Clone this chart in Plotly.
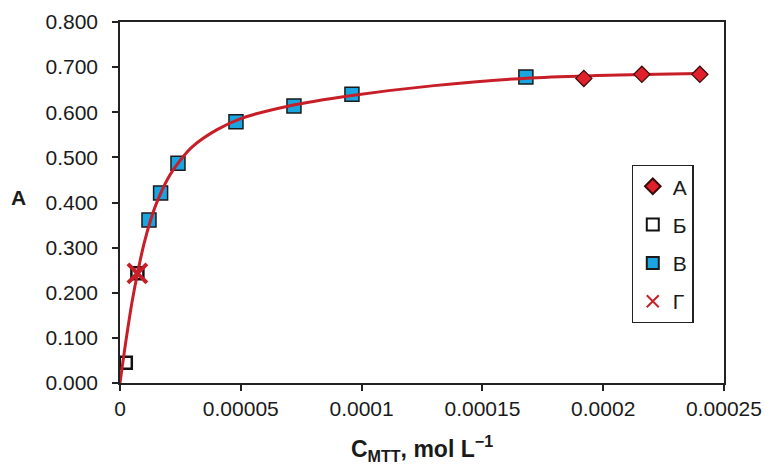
import plotly.graph_objects as go

# Measured absorbance A vs. MTT concentration (mol/L), by series
conc_a = [0.000192, 0.000216, 0.000240]
abs_a = [0.675, 0.684, 0.684]

conc_b = [0.0000024, 0.0000072]
abs_b = [0.045, 0.243]

conc_v = [0.000012, 0.0000168, 0.000024, 0.000048, 0.000072, 0.000096, 0.000168]
abs_v = [0.361, 0.421, 0.487, 0.579, 0.614, 0.640, 0.678]

conc_g = [0.0000072]
abs_g = [0.243]

# Saturation trend line through the measurements
fit_conc = [0.0, 0.0000025, 0.000005, 0.0000075, 0.00001, 0.0000125, 0.000015,
            0.00002, 0.000025, 0.00003, 0.00004, 0.00005, 0.00007,
            0.000096, 0.00013, 0.00017, 0.00024]
fit_abs = [0.0, 0.095, 0.180, 0.250, 0.310, 0.358, 0.397,
           0.455, 0.494, 0.524, 0.561, 0.586, 0.614,
           0.637, 0.659, 0.676, 0.686]

x_tick_vals = [0, 0.00005, 0.0001, 0.00015, 0.0002, 0.00025]
x_tick_text = ["0", "0.00005", "0.0001", "0.00015", "0.0002", "0.00025"]
y_tick_vals = [0, 0.1, 0.2, 0.3, 0.4, 0.5, 0.6, 0.7, 0.8]

FONT = "Liberation Sans, Arial, sans-serif"
RED = "#c81e28"
INK = "#1a1a1a"

fig = go.Figure()

fig.add_trace(go.Scatter(
    x=conc_b, y=abs_b, mode="markers", name="Б", legendgroup="b", legendrank=2,
    marker=dict(symbol="square-open", size=12, color="#111111",
                line=dict(width=2.5, color="#111111")),
))
fig.add_trace(go.Scatter(
    x=conc_v, y=abs_v, mode="markers", name="В", legendgroup="v", legendrank=3,
    marker=dict(symbol="square", size=14, color="#1aa5e0",
                line=dict(width=1.5, color=INK)),
))
fig.add_trace(go.Scatter(
    x=fit_conc, y=fit_abs, mode="lines", showlegend=False, hoverinfo="skip",
    line=dict(color=RED, width=3, shape="spline", smoothing=1.0),
))
fig.add_trace(go.Scatter(
    x=conc_a, y=abs_a, mode="markers", name="А", legendgroup="a", legendrank=1,
    marker=dict(symbol="diamond", size=12.5, color="#e0202a",
                line=dict(width=1.2, color="#3a0a0a")),
))
fig.add_trace(go.Scatter(
    x=conc_g, y=abs_g, mode="markers", name="Г", legendgroup="g", legendrank=4,
    marker=dict(symbol="x-thin", size=19, color=RED,
                line=dict(width=4, color=RED)),
))

fig.update_layout(
    width=766, height=465,
    margin=dict(l=120, r=42, t=22, b=82),
    paper_bgcolor="white", plot_bgcolor="white",
    font=dict(family=FONT, size=21, color=INK),
    showlegend=True,
    legend=dict(
        x=0.847, y=0.604, xanchor="left", yanchor="top",
        bordercolor="#222222", borderwidth=1.2, bgcolor="white",
        font=dict(family=FONT, size=21, color=INK),
        itemsizing="constant", tracegroupgap=8, itemwidth=30,
    ),
    annotations=[
        # horizontal y-axis label beside the 0.400 tick
        dict(text="<b>A</b>", x=(18 - 120) / 604, y=(383 - 197) / 361,
             xref="paper", yref="paper", xanchor="center", yanchor="middle",
             showarrow=False, font=dict(size=21, family=FONT, color=INK)),
    ],
)

fig.update_xaxes(
    range=[0, 0.00025], tickvals=x_tick_vals, ticktext=x_tick_text,
    automargin=False,
    showgrid=False, zeroline=False,
    showline=True, linecolor="#222222", linewidth=1.5, mirror=True,
    ticks="outside", ticklen=6, tickwidth=1.5, tickcolor="#222222",
    tickfont=dict(size=21, family=FONT, color=INK),
    title=dict(text="<b>C<sub>MTT</sub>, mol L<sup>\u22121</sup></b>",
               font=dict(size=23, family=FONT, color=INK), standoff=26),
)
fig.update_yaxes(
    range=[0, 0.8], tickvals=y_tick_vals, tickformat=".3f",
    automargin=False,
    showgrid=False, zeroline=False,
    showline=True, linecolor="#222222", linewidth=1.5, mirror=True,
    ticks="outside", ticklen=6, tickwidth=1.5, tickcolor="#222222",
    tickfont=dict(size=21, family=FONT, color=INK),
    ticklabelstandoff=10,
)

fig.write_html("out.html")
